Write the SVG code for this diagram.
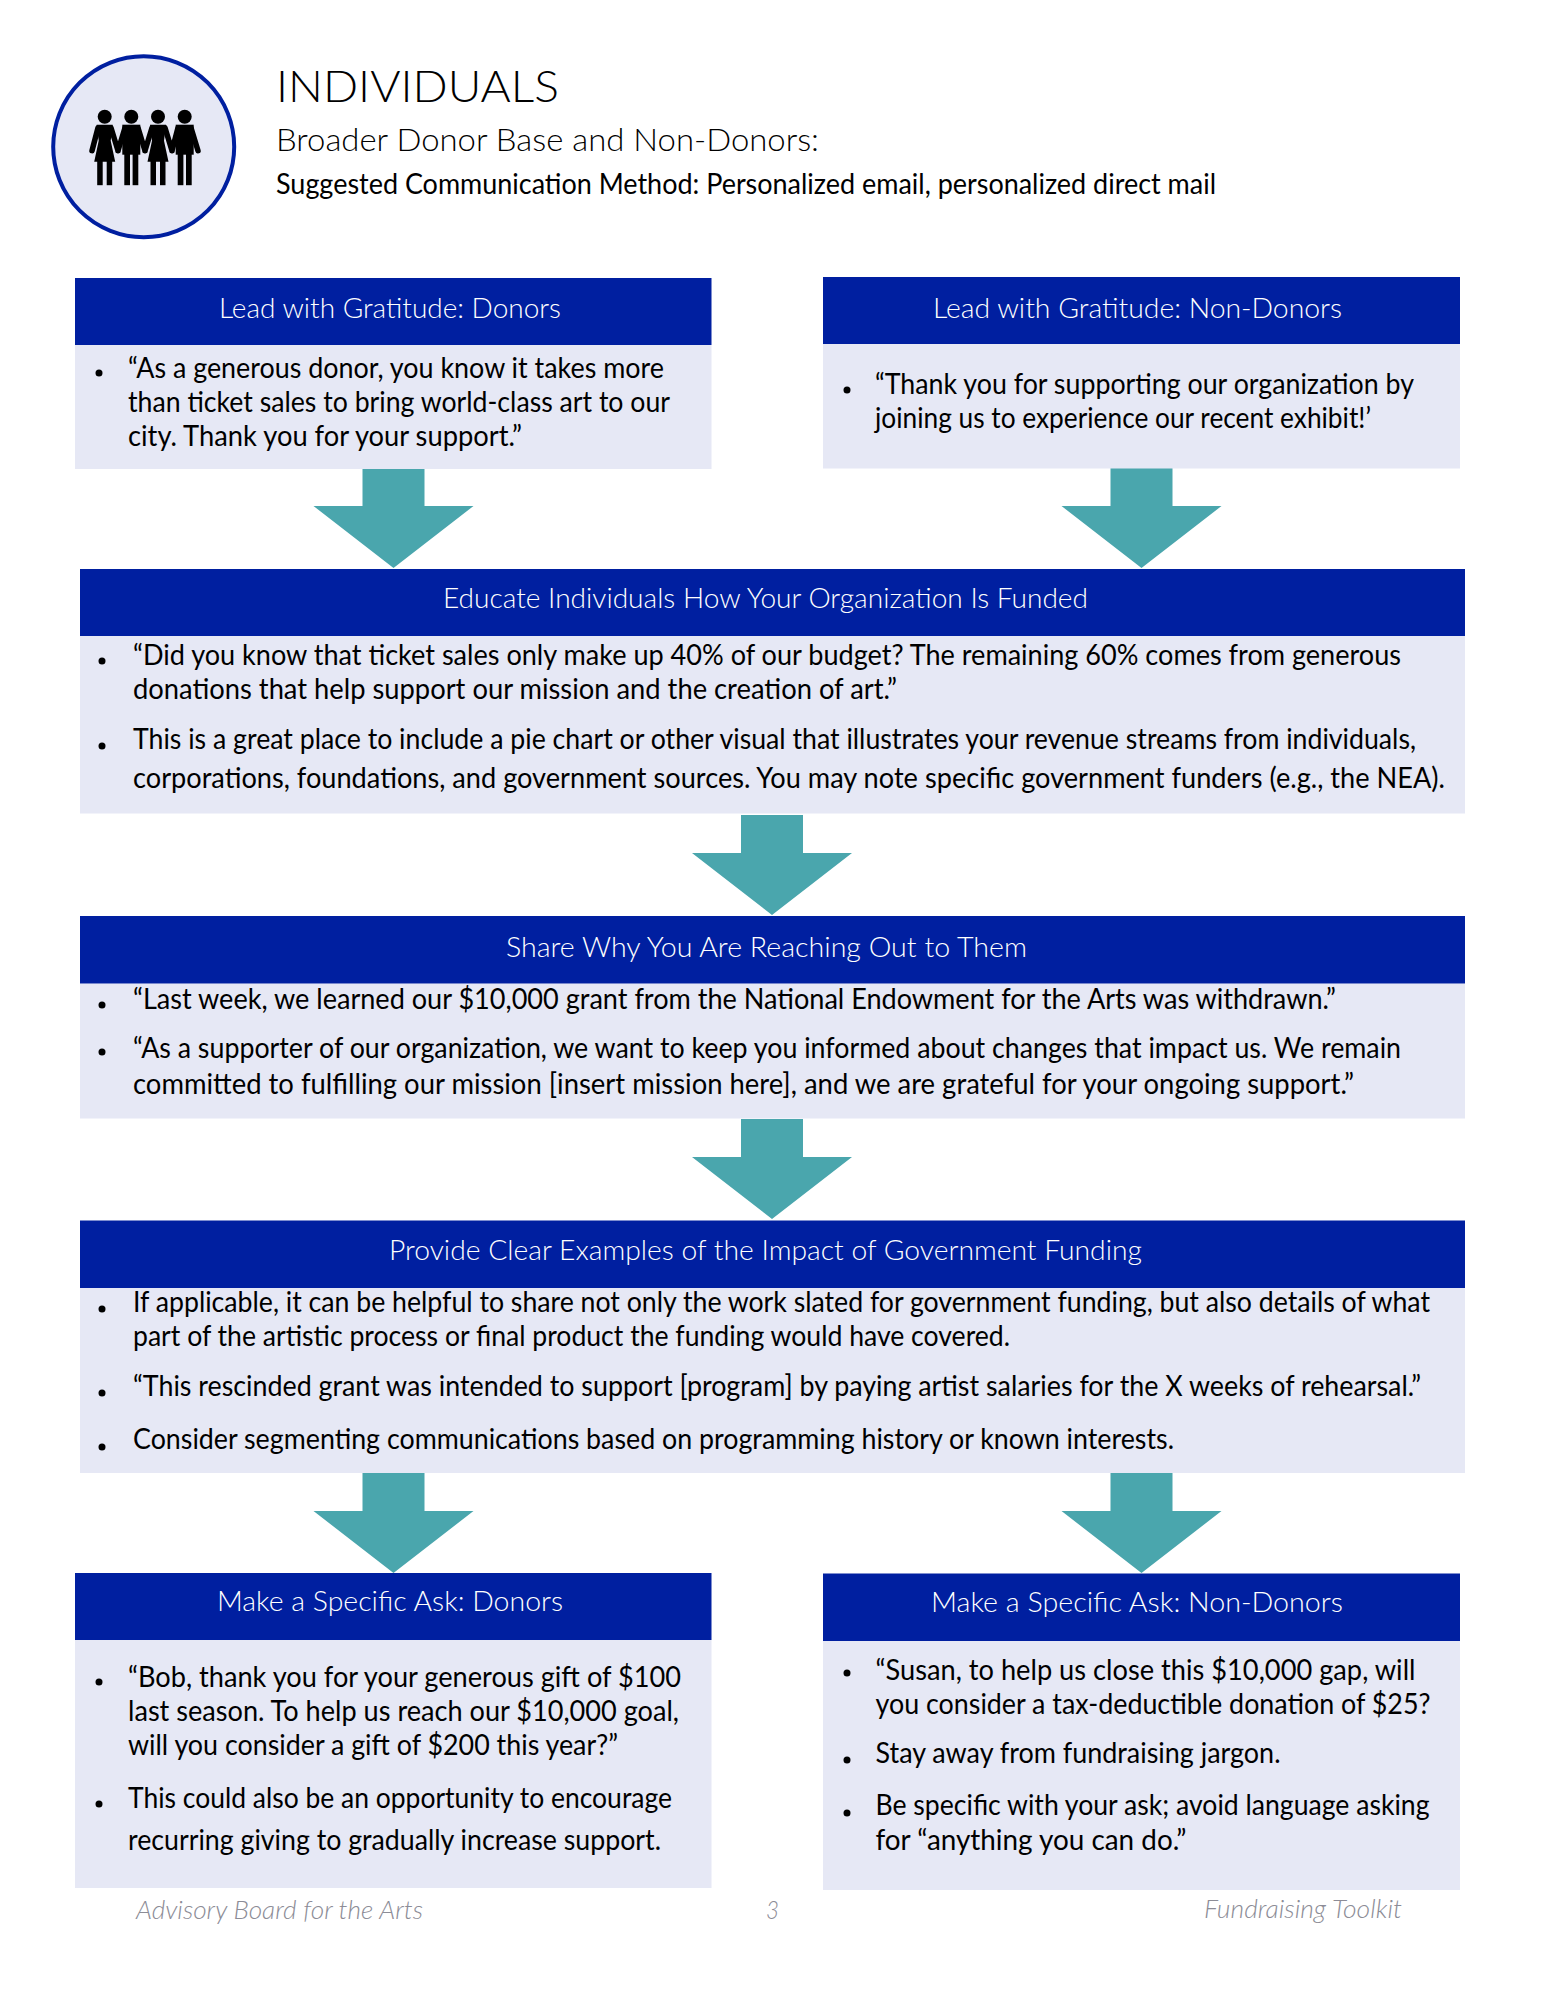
<svg xmlns="http://www.w3.org/2000/svg" xmlns:xlink="http://www.w3.org/1999/xlink" width="1545" height="2000" viewBox="0 0 1545 2000">
<style>
text{font-family:"Lato","Open Sans","Liberation Sans",sans-serif;}
.hd{fill:#001fa0}
.bd{fill:#e6e8f5}
.h{fill:#fff;font-size:28px;font-weight:300;transform:translateY(1px)}
.b{fill:#000;font-size:29px;transform:translateY(1px)}
.t{font-weight:300}
.d{fill:#000}
.f{fill:#8c8c96;font-size:26px;font-style:italic;font-weight:300;transform:translateY(1px)}
.ar{fill:#4aa6ad}
.p{fill:#000}
.l{stroke:#000;stroke-width:5.5;stroke-linecap:round;fill:none}
</style>
<defs>
<path id="arrow" d="M-31 0H31V38H80L0 100L-80 38H-31Z"/>
<g id="woman">
<circle cx="0" cy="0" r="7"/>
<path d="M-8 8H8L6 24L10.500 45H-10.500L-6 24Z"/>
<rect x="-7.500" y="44" width="5.500" height="24.500"/>
<rect x="2" y="44" width="5.500" height="24.500"/>
</g>
<g id="man">
<circle cx="0" cy="0" r="7"/>
<path d="M-9 8H9V38H-9Z"/>
<rect x="-7" y="36" width="5.700" height="32.500"/>
<rect x="1.300" y="36" width="5.700" height="32.500"/>
</g>
</defs>
<rect width="1545" height="2000" fill="#fff"/>

<g id="header">
<circle cx="143.700" cy="146.700" r="90.500" fill="#e6e8f5" stroke="#001fa0" stroke-width="4"/>
<g id="people" class="p" transform="translate(0 116.700)">
<use xlink:href="#woman" href="#woman" x="104.700"/>
<use xlink:href="#man" href="#man" x="131.300"/>
<use xlink:href="#woman" href="#woman" x="158"/>
<use xlink:href="#man" href="#man" x="184.700"/>
<path class="l" d="M98 11L92 34M111 11L118 34M125 11L118 34M138 11L145 34M152 11L145 34M165 11L172 34M178 11L172 34M191 11L198 34"/>
</g>
<text class="t" x="276" y="102" font-size="44" textLength="283" lengthAdjust="spacingAndGlyphs">INDIVIDUALS</text>
<text class="t" x="276" y="151" font-size="31" textLength="543" lengthAdjust="spacingAndGlyphs">Broader Donor Base and Non-Donors:</text>
<text x="276" y="194" font-size="28" textLength="940" lengthAdjust="spacingAndGlyphs">Suggested Communication Method: Personalized email, personalized direct mail</text>
</g>

<g id="connectors" class="ar">
<use xlink:href="#arrow" href="#arrow" x="393.500" y="468"/>
<use xlink:href="#arrow" href="#arrow" x="1141.500" y="468"/>
<use xlink:href="#arrow" href="#arrow" x="772" y="815"/>
<use xlink:href="#arrow" href="#arrow" x="772" y="1119"/>
<use xlink:href="#arrow" href="#arrow" x="393.500" y="1473"/>
<use xlink:href="#arrow" href="#arrow" x="1141.500" y="1473"/>
</g>

<g id="node-lead-donors">
<rect class="bd" x="75" y="345" width="636.500" height="124"/>
<rect class="hd" x="75" y="278" width="636.500" height="67"/>
<text class="h" x="219" y="317" textLength="342" lengthAdjust="spacingAndGlyphs">Lead with Gratitude: Donors</text>
<circle class="d" cx="99" cy="373" r="3.500"/>
<text class="b" x="128" y="377" textLength="536" lengthAdjust="spacingAndGlyphs">“As a generous donor, you know it takes more</text>
<text class="b" x="128" y="411" textLength="542" lengthAdjust="spacingAndGlyphs">than ticket sales to bring world-class art to our</text>
<text class="b" x="128" y="445" textLength="394" lengthAdjust="spacingAndGlyphs">city. Thank you for your support.”</text>
</g>

<g id="node-lead-nondonors">
<rect class="bd" x="823" y="344" width="637" height="124.500"/>
<rect class="hd" x="823" y="277" width="637" height="67"/>
<text class="h" x="933" y="317" textLength="409" lengthAdjust="spacingAndGlyphs">Lead with Gratitude: Non-Donors</text>
<circle class="d" cx="847" cy="390" r="3.500"/>
<text class="b" x="875" y="393" textLength="539" lengthAdjust="spacingAndGlyphs">“Thank you for supporting our organization by</text>
<text class="b" x="875" y="427" textLength="496" lengthAdjust="spacingAndGlyphs">joining us to experience our recent exhibit!’</text>
</g>

<g id="node-educate">
<rect class="bd" x="80" y="636" width="1385" height="177.500"/>
<rect class="hd" x="80" y="569" width="1385" height="67"/>
<text class="h" x="443" y="607" textLength="645" lengthAdjust="spacingAndGlyphs">Educate Individuals How Your Organization Is Funded</text>
<circle class="d" cx="102" cy="661" r="3.500"/>
<text class="b" x="133" y="664" textLength="1268" lengthAdjust="spacingAndGlyphs">“Did you know that ticket sales only make up 40% of our budget? The remaining 60% comes from generous</text>
<text class="b" x="133" y="698" textLength="764" lengthAdjust="spacingAndGlyphs">donations that help support our mission and the creation of art.”</text>
<circle class="d" cx="102" cy="746" r="3.500"/>
<text class="b" x="133" y="748" textLength="1283" lengthAdjust="spacingAndGlyphs">This is a great place to include a pie chart or other visual that illustrates your revenue streams from individuals,</text>
<text class="b" x="133" y="787" textLength="1312" lengthAdjust="spacingAndGlyphs">corporations, foundations, and government sources. You may note specific government funders (e.g., the NEA).</text>
</g>

<g id="node-share">
<rect class="bd" x="80" y="983.500" width="1385" height="135"/>
<rect class="hd" x="80" y="916" width="1385" height="67.500"/>
<text class="h" x="506" y="956" textLength="521" lengthAdjust="spacingAndGlyphs">Share Why You Are Reaching Out to Them</text>
<circle class="d" cx="102" cy="1005" r="3.500"/>
<text class="b" x="133" y="1008" textLength="1203" lengthAdjust="spacingAndGlyphs">“Last week, we learned our $10,000 grant from the National Endowment for the Arts was withdrawn.”</text>
<circle class="d" cx="102" cy="1052" r="3.500"/>
<text class="b" x="133" y="1057" textLength="1268" lengthAdjust="spacingAndGlyphs">“As a supporter of our organization, we want to keep you informed about changes that impact us. We remain</text>
<text class="b" x="133" y="1093" textLength="1221" lengthAdjust="spacingAndGlyphs">committed to fulfilling our mission [insert mission here], and we are grateful for your ongoing support.”</text>
</g>

<g id="node-provide">
<rect class="bd" x="80" y="1288" width="1385" height="185"/>
<rect class="hd" x="80" y="1220.500" width="1385" height="67.500"/>
<text class="h" x="389" y="1259" textLength="753" lengthAdjust="spacingAndGlyphs">Provide Clear Examples of the Impact of Government Funding</text>
<circle class="d" cx="102" cy="1309" r="3.500"/>
<text class="b" x="133" y="1311" textLength="1297" lengthAdjust="spacingAndGlyphs">If applicable, it can be helpful to share not only the work slated for government funding, but also details of what</text>
<text class="b" x="133" y="1345" textLength="877" lengthAdjust="spacingAndGlyphs">part of the artistic process or final product the funding would have covered.</text>
<circle class="d" cx="102" cy="1393" r="3.500"/>
<text class="b" x="133" y="1395" textLength="1288" lengthAdjust="spacingAndGlyphs">“This rescinded grant was intended to support [program] by paying artist salaries for the X weeks of rehearsal.”</text>
<circle class="d" cx="102" cy="1447" r="3.500"/>
<text class="b" x="133" y="1448" textLength="1041" lengthAdjust="spacingAndGlyphs">Consider segmenting communications based on programming history or known interests.</text>
</g>

<g id="node-ask-donors">
<rect class="bd" x="75" y="1640" width="636.500" height="248"/>
<rect class="hd" x="75" y="1573" width="636.500" height="67"/>
<text class="h" x="217" y="1610" textLength="346" lengthAdjust="spacingAndGlyphs">Make a Specific Ask: Donors</text>
<circle class="d" cx="99" cy="1682" r="3.500"/>
<text class="b" x="128" y="1686" textLength="553" lengthAdjust="spacingAndGlyphs">“Bob, thank you for your generous gift of $100</text>
<text class="b" x="128" y="1720" textLength="551" lengthAdjust="spacingAndGlyphs">last season. To help us reach our $10,000 goal,</text>
<text class="b" x="128" y="1754" textLength="490" lengthAdjust="spacingAndGlyphs">will you consider a gift of $200 this year?”</text>
<circle class="d" cx="99" cy="1804" r="3.500"/>
<text class="b" x="128" y="1807" textLength="544" lengthAdjust="spacingAndGlyphs">This could also be an opportunity to encourage</text>
<text class="b" x="128" y="1849" textLength="533" lengthAdjust="spacingAndGlyphs">recurring giving to gradually increase support.</text>
</g>

<g id="node-ask-nondonors">
<rect class="bd" x="823" y="1641" width="637" height="249"/>
<rect class="hd" x="823" y="1573.500" width="637" height="67.500"/>
<text class="h" x="931" y="1611" textLength="412" lengthAdjust="spacingAndGlyphs">Make a Specific Ask: Non-Donors</text>
<circle class="d" cx="847" cy="1673" r="3.500"/>
<text class="b" x="875.500" y="1679" textLength="540" lengthAdjust="spacingAndGlyphs">“Susan, to help us close this $10,000 gap, will</text>
<text class="b" x="875.500" y="1713" textLength="555" lengthAdjust="spacingAndGlyphs">you consider a tax-deductible donation of $25?</text>
<circle class="d" cx="847" cy="1760" r="3.500"/>
<text class="b" x="875.500" y="1762" textLength="405" lengthAdjust="spacingAndGlyphs">Stay away from fundraising jargon.</text>
<circle class="d" cx="847" cy="1813" r="3.500"/>
<text class="b" x="875.500" y="1814" textLength="554" lengthAdjust="spacingAndGlyphs">Be specific with your ask; avoid language asking</text>
<text class="b" x="875.500" y="1849" textLength="311" lengthAdjust="spacingAndGlyphs">for “anything you can do.”</text>
</g>

<g id="footer">
<text class="f" x="136" y="1918" textLength="287" lengthAdjust="spacingAndGlyphs">Advisory Board for the Arts</text>
<text class="f" x="766" y="1918" textLength="13" lengthAdjust="spacingAndGlyphs">3</text>
<text class="f" x="1204" y="1917" textLength="198" lengthAdjust="spacingAndGlyphs">Fundraising Toolkit</text>
</g>
</svg>
